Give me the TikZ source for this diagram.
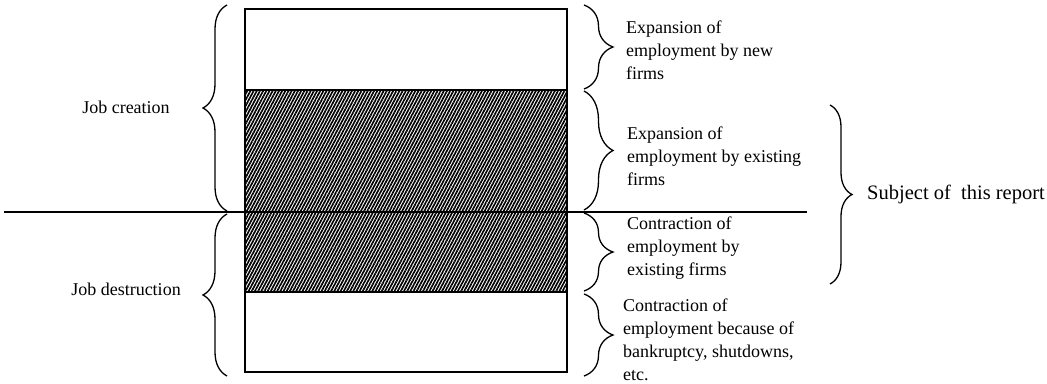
\documentclass[tikz,border=0pt]{standalone}
\usepackage{fontspec}
\setmainfont{Liberation Serif}
\usetikzlibrary{decorations.pathreplacing,patterns.meta}
\begin{document}
\begin{tikzpicture}[x=1pt,y=-1pt]
\tikzset{lbl/.style = {font=\fontsize{18}{23}\selectfont, align=left, inner sep=0pt}}
\tikzset{brc/.style = {decorate, decoration={brace,amplitude=#1}, line width=1.3pt}}
\tikzset{hatch/.style = {pattern={Lines[angle=62,distance=2.8pt,line width=1.7pt]}}}
\useasboundingbox (0,0) rectangle (1047,383);
% box corners and cuts
\coordinate (tl) at (245,9);
\coordinate (br) at (567,372);
\coordinate (c1) at (245,90);
\coordinate (c1r) at (567,90);
\coordinate (c2) at (245,292);
\coordinate (c2r) at (567,292);
\fill[hatch] (c1) rectangle (c2r);
\draw[line width=2.4pt] (tl) rectangle (br);
\draw[line width=2.2pt] (c1) -- (c1r);
\draw[line width=2.2pt] (c2) -- (c2r);
% dividing line
\coordinate (ha) at (4,212);
\coordinate (hb) at (807,212);
\draw[line width=2.4pt] (ha) -- (hb);
% left braces
\draw[brc=24pt] (227,211) -- (227,5);
\draw[brc=24pt] (227,376) -- (227,214);
\node[lbl] (jc) at (126,107) {Job creation};
\node[lbl] (jd) at (126,289) {Job destruction};
% right braces
\draw[brc=29pt] (584,5) -- (584,89);
\draw[brc=29pt] (584,91) -- (584,210);
\draw[brc=29pt] (584,213) -- (584,291);
\draw[brc=29pt] (584,294) -- (584,376);
\node[lbl,anchor=west] (en) at (626,50) {Expansion of\\employment by new\\firms};
\node[lbl,anchor=west] (ee) at (627,156) {Expansion of\\employment by existing\\firms};
\node[lbl,anchor=west] (ce) at (627,248) {Contraction of\\employment by\\existing firms};
\node[lbl,anchor=west] (cb) at (623,340) {Contraction of\\employment because of\\bankruptcy, shutdowns,\\etc.};
% subject brace
\draw[brc=22pt] (830,105) -- (830,284);
\node[lbl,font=\fontsize{20.5}{24}\selectfont,anchor=west] (sr) at (867,194) {Subject of\ \ this report};
\end{tikzpicture}
\end{document}
